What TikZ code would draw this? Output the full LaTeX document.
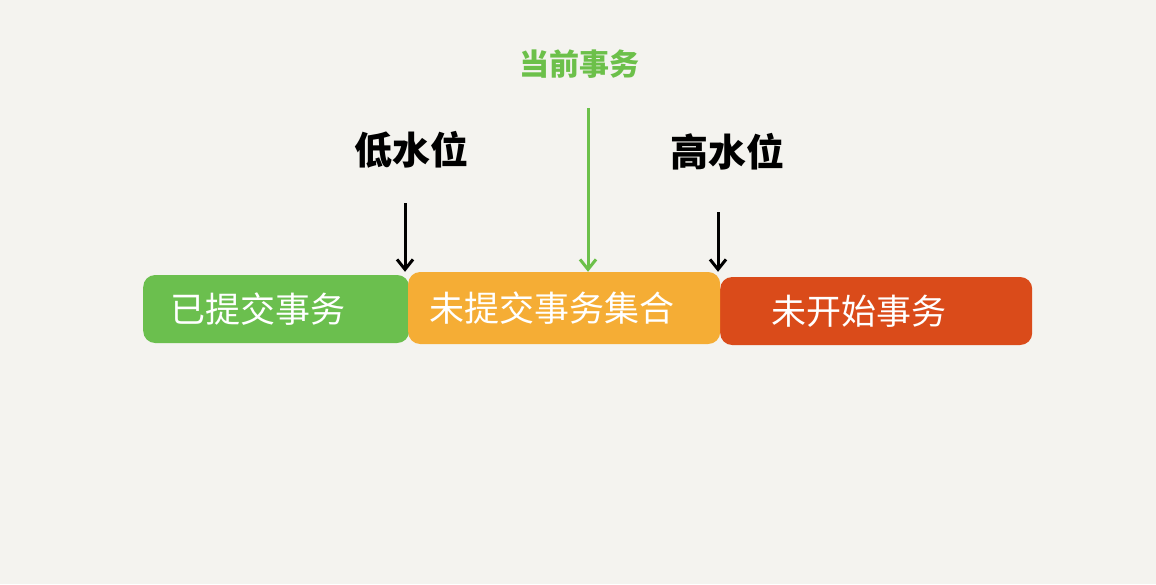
\documentclass[tikz,border=0pt]{standalone}
\usepackage{fontspec}
\newfontfamily\cjk{Noto Sans CJK SC}
\usetikzlibrary{arrows.meta}
\definecolor{bg}{HTML}{F4F3EF}
\definecolor{gbar}{HTML}{6BBF4E}
\definecolor{obar}{HTML}{F5AD35}
\definecolor{rbar}{HTML}{DA4B1A}
\definecolor{garrow}{HTML}{6CC04A}
\tikzset{
  bar/.style={rounded corners=12pt, inner sep=0pt, minimum height=68pt, text=white,
    font=\cjk\fontsize{35}{35}\selectfont},
  lbl/.style={inner sep=0pt, font=\cjk\bfseries\fontsize{38}{38}\selectfont},
  marker/.style={line width=3pt, -{Straight Barb[length=10pt,width=16pt,line width=3pt]}},
}
\begin{document}
\begin{tikzpicture}[x=1pt,y=-1pt]
\useasboundingbox[fill=bg] (0,0) rectangle (1156,584);
\node[bar, fill=gbar, minimum width=266pt, anchor=west] (done) at (143,309) {\hspace{-36pt}已提交事务};
\node[bar, fill=rbar, minimum width=312pt, anchor=west] (todo) at (720,311) {\hspace{-34pt}未开始事务};
\node[bar, fill=obar, minimum width=312pt, minimum height=72pt, anchor=west] (open) at (408,308) {\hspace{-24pt}未提交事务集合};
\node[lbl, text=garrow, font=\cjk\bfseries\fontsize{30}{30}\selectfont] (cur) at (579,64) {当前事务};
\node[lbl] (low) at (411,150) {低水位};
\node[lbl] (high) at (727,152) {高水位};
\coordinate (lowtop) at (405,203);
\coordinate (curtop) at (588,108);
\coordinate (hightop) at (718,212);
\draw[marker] (lowtop) -- (lowtop |- open.north);
\draw[marker, draw=garrow] (curtop) -- (curtop |- open.north);
\draw[marker] (hightop) -- (hightop |- open.north);
\end{tikzpicture}
\end{document}
